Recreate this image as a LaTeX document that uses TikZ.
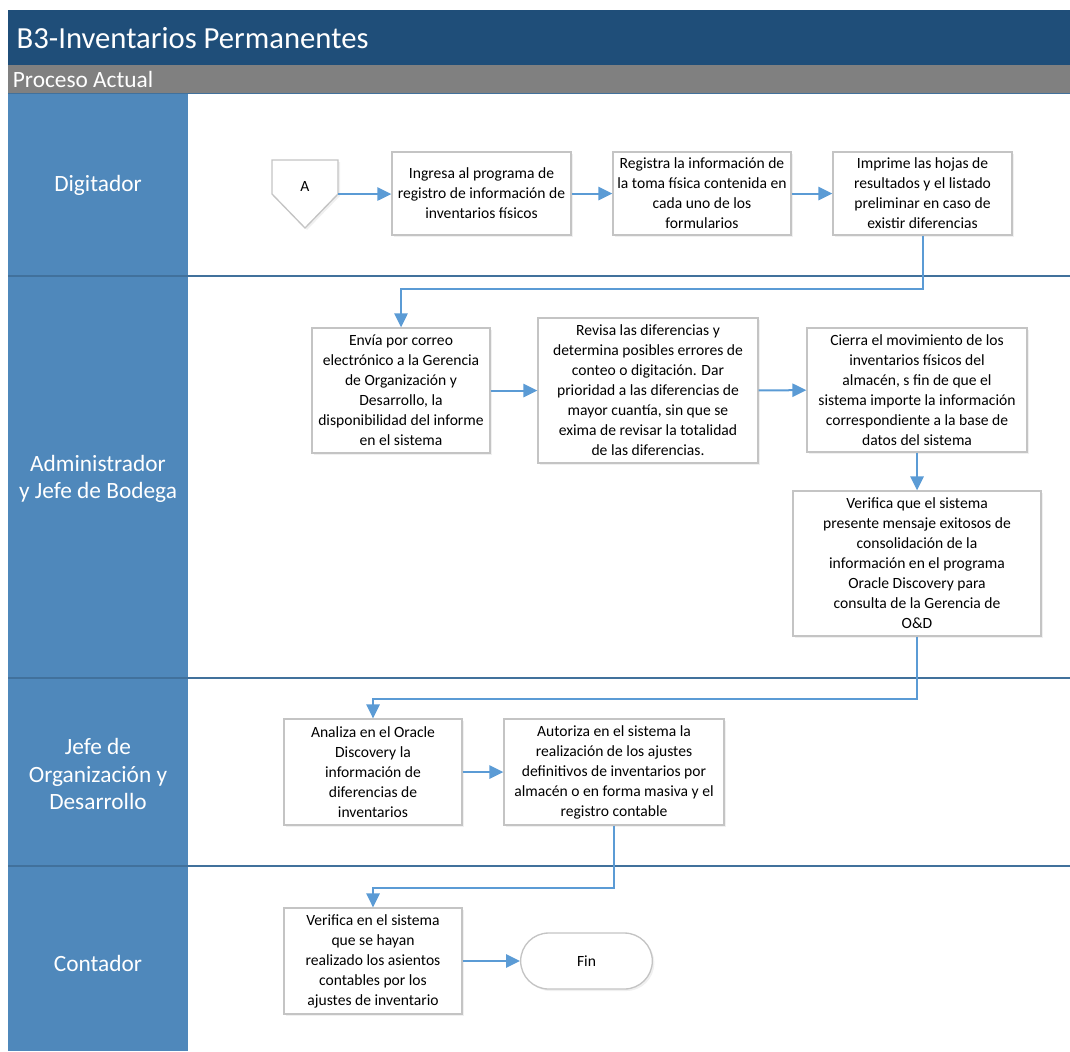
\documentclass[tikz,border=0pt]{standalone}
\usepackage{fontspec}
\setmainfont{Carlito}
\usetikzlibrary{arrows.meta,shapes.misc,shadows}

\definecolor{titleblue}{HTML}{1F4E79}
\definecolor{lanegray}{HTML}{808080}
\definecolor{laneblue}{HTML}{4F88BB}
\definecolor{linedark}{HTML}{41719C}
\definecolor{flowblue}{HTML}{5B9BD5}
\definecolor{boxgray}{HTML}{C4C4C4}

\newcommand{\pxu}{0.75pt}

\tikzset{
  task/.style={draw=boxgray, fill=white, line width=1pt, align=center, inner sep=2pt,
    font=\fontsize{11.7}{15}\selectfont,
    drop shadow={opacity=0.12, shadow xshift=1.5pt, shadow yshift=-1.5pt}},
  flow/.style={draw=flowblue, line width=1.5pt, -{Triangle[length=10.5pt,width=10pt]}},
  lanetext/.style={text=white, align=center, font=\fontsize{17.5}{20.5}\selectfont},
}

\begin{document}
\begin{tikzpicture}[x=\pxu, y=-\pxu]
\useasboundingbox (0,0) rectangle (1070,1051);

% Title bar, subtitle bar and the column of lane headers
\fill[titleblue] (8,10) rectangle (1070,65);
\fill[lanegray] (8,65) rectangle (1070,93);
\draw[linedark, line width=1pt] (8,93.5) -- (1070,93.5);
\fill[laneblue] (8,94) rectangle (188,1051);
\node[anchor=west, text=white, font=\fontsize{23}{26}\selectfont] (title) at (12,38) {B3-Inventarios Permanentes};
\node[anchor=west, text=white, font=\fontsize{17.5}{20}\selectfont, inner sep=2pt] (subtitle) at (10,79) {Proceso Actual};

% Lane dividers
\foreach \y in {276,678,866}
	\draw[linedark, line width=1.5pt] (8,\y) -- (1070,\y);

% Lane names
\node[lanetext] (digitador) at (98,185) {Digitador};
\node[lanetext] (bodega) at (98,479) {Administrador\\y Jefe de Bodega};
\node[lanetext] (jefe) at (98,774) {Jefe de\\Organización y\\Desarrollo};
\node[lanetext] (contador) at (98,963) {Contador};

% Off-page connector A
\draw[draw=boxgray, fill=white, line width=1pt, drop shadow={opacity=0.12, shadow xshift=1.5pt, shadow yshift=-1.5pt}]
	(272,160) -- (338,160) -- (338,194) -- (305,228) -- (272,194) -- cycle;
\node[font=\fontsize{11.7}{15}\selectfont] (A) at (305,186) {A};
\coordinate (Aout) at (338,194);

% Digitador
\node[task, minimum width=179*\pxu, minimum height=83*\pxu] (ingresa) at (481.5,193.5)
	{Ingresa al programa de\\registro de información de\\inventarios físicos};
\node[task, minimum width=178*\pxu, minimum height=83*\pxu] (registra) at (702,193.5)
	{Registra la información de\\la toma física contenida en\\cada uno de los\\formularios};
\node[task, minimum width=179*\pxu, minimum height=83*\pxu] (imprime) at (922.5,193.5)
	{Imprime las hojas de\\resultados y el listado\\preliminar en caso de\\existir diferencias};

% Administrador y Jefe de Bodega
\node[task, minimum width=178*\pxu, minimum height=125*\pxu] (envia) at (401,390.5)
	{Envía por correo\\electrónico a la Gerencia\\de Organización y\\Desarrollo, la\\disponibilidad del informe\\en el sistema};
\node[task, minimum width=220*\pxu, minimum height=145*\pxu] (revisa) at (648,390.5)
	{Revisa las diferencias y\\determina posibles errores de\\conteo o digitación. Dar\\prioridad a las diferencias de\\mayor cuantía, sin que se\\exima de revisar la totalidad\\de las diferencias.};
\node[task, minimum width=220*\pxu, minimum height=124*\pxu] (cierra) at (917,390)
	{Cierra el movimiento de los\\inventarios físicos del\\almacén, s fin de que el\\sistema importe la información\\correspondiente a la base de\\datos del sistema};
\node[task, minimum width=248*\pxu, minimum height=145*\pxu] (verifica) at (917,563.5)
	{Verifica que el sistema\\presente mensaje exitosos de\\consolidación de la\\información en el programa\\Oracle Discovery para\\consulta de la Gerencia de\\O\&D};

% Jefe de Organizacion y Desarrollo
\node[task, minimum width=178*\pxu, minimum height=106*\pxu] (analiza) at (373,772)
	{Analiza en el Oracle\\Discovery la\\información de\\diferencias de\\inventarios};
\node[task, minimum width=220*\pxu, minimum height=106*\pxu] (autoriza) at (614,772)
	{Autoriza en el sistema la\\realización de los ajustes\\definitivos de inventarios por\\almacén o en forma masiva y el\\registro contable};

% Contador
\node[task, minimum width=178*\pxu, minimum height=106*\pxu] (asientos) at (373,961)
	{Verifica en el sistema\\que se hayan\\realizado los asientos\\contables por los\\ajustes de inventario};
\node[task, rounded rectangle, minimum width=137*\pxu, minimum height=56*\pxu] (fin) at (586.5,961) {Fin};

% Flow
\draw[flow] (Aout) -- (Aout -| ingresa.west);
\draw[flow] (ingresa) -- (registra);
\draw[flow] (registra) -- (imprime);
\draw[flow] (imprime.south) -- ++(0,53) -| (envia.north);
\draw[flow] (envia) -- (revisa);
\draw[flow] (revisa) -- (cierra);
\draw[flow] (cierra) -- (verifica);
\draw[flow] (verifica.south) -- ++(0,62) -| (analiza.north);
\draw[flow] (analiza) -- (autoriza);
\draw[flow] (autoriza.south) -- ++(0,62) -| (asientos.north);
\draw[flow] (asientos) -- (fin);
\end{tikzpicture}
\end{document}
